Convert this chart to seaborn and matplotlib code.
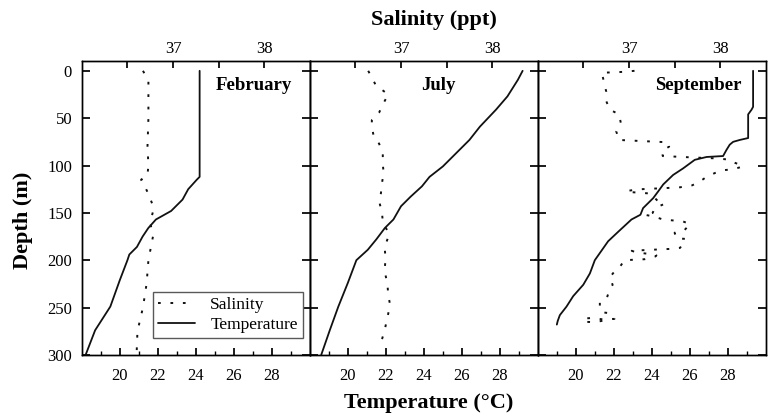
import seaborn as sns
import matplotlib.pyplot as plt

# depth profiles (depth in m)
months = ["February", "July", "September"]

feb_temp_depth = [0, 112, 115, 125, 136, 148, 157, 166, 175, 186, 194, 200, 221, 249, 274, 300]
feb_temp = [24.2, 24.2, 24.05, 23.6, 23.3, 22.7, 21.9, 21.5, 21.2, 20.9, 20.5, 20.4, 20.0, 19.5, 18.7, 18.2]
feb_sal_depth = [0, 10, 50, 80, 100, 110, 115, 122, 130, 145, 160, 175, 200, 225, 250, 275, 300]
feb_sal = [36.67, 36.73, 36.73, 36.72, 36.73, 36.72, 36.65, 36.69, 36.73, 36.79, 36.75, 36.78,
           36.73, 36.71, 36.67, 36.61, 36.60]

jul_temp_depth = [0, 9.5, 27, 41, 59, 73, 87, 101, 112, 122, 133, 143, 157, 166, 178, 189, 200,
                  224, 249, 274, 300]
jul_temp = [29.2, 28.95, 28.4, 27.8, 26.95, 26.4, 25.7, 25.0, 24.3, 23.9, 23.3, 22.8, 22.4, 21.95,
            21.5, 21.05, 20.45, 20.0, 19.5, 19.05, 18.6]
jul_sal_depth = [0, 7, 16.5, 20, 25, 32, 44, 52, 59, 69, 77, 88, 99, 108, 119, 129, 138, 149, 159,
                 173, 186, 198, 212, 224, 237, 247, 261, 274, 284, 289]
jul_sal = [36.64, 36.68, 36.73, 36.79, 36.86, 36.82, 36.76, 36.68, 36.68, 36.70, 36.76, 36.80,
           36.80, 36.81, 36.79, 36.78, 36.76, 36.79, 36.80, 36.87, 36.82, 36.83, 36.82, 36.85,
           36.86, 36.88, 36.85, 36.82, 36.79, 36.77]

sep_temp_depth = [0, 38, 41, 46, 71, 73, 75, 78, 83.5, 90, 91, 94, 103, 110, 120, 127.5, 134.5,
                  145, 152, 157, 170, 180, 200, 214, 226, 238, 249, 258, 264, 268]
sep_temp = [29.33, 29.33, 29.25, 29.07, 29.07, 28.63, 28.28, 28.1, 27.93, 27.75, 26.88, 26.26,
            25.65, 25.12, 24.6, 24.33, 24.07, 23.54, 23.4, 22.93, 22.23, 21.7, 21.0, 20.74, 20.39,
            19.86, 19.51, 19.16, 19.05, 19.0]
sep_sal_depth = [0, 1, 1.5, 2, 9.5, 22, 32, 41, 46, 55,
                 64, 73, 73.5, 74, 74.5, 75, 75.5, 80, 85, 90,
                 90.5, 91, 91.5, 92, 92.5, 94, 97, 101, 104, 105,
                 108, 112, 118, 121, 123, 123.5, 124, 124.5, 125, 126,
                 127, 128, 129, 129.5, 134, 138, 140.5, 145, 150, 152,
                 154, 157, 158, 159, 162, 168, 171, 177, 177.5, 182,
                 187, 188, 188.5, 189, 189.5, 190, 192, 193, 195, 196,
                 199, 199.5, 200, 207, 212, 218, 226, 233, 239, 244,
                 249, 255, 256, 262, 262.5, 261, 261.5, 265, 265.5, 264]
sep_sal = [37.06, 36.95, 36.86, 36.70, 36.72, 36.75, 36.75, 36.79, 36.89, 36.91,
           36.86, 36.89, 36.99, 37.10, 37.21, 37.32, 37.43, 37.44, 37.36, 37.37,
           37.48, 37.59, 37.70, 37.83, 37.96, 38.12, 38.16, 38.25, 38.14, 38.03,
           37.94, 37.85, 37.76, 37.69, 37.56, 37.47, 37.36, 37.25, 37.14, 37.04,
           36.97, 37.01, 37.14, 37.23, 37.28, 37.32, 37.39, 37.28, 37.26, 37.17,
           37.28, 37.37, 37.48, 37.59, 37.67, 37.61, 37.50, 37.52, 37.62, 37.59,
           37.56, 37.47, 37.36, 37.25, 37.14, 37.03, 37.08, 37.19, 37.30, 37.29,
           37.17, 37.06, 36.95, 36.90, 36.84, 36.79, 36.82, 36.78, 36.76, 36.68,
           36.68, 36.70, 36.79, 36.84, 36.71, 36.60, 36.52, 36.50, 36.62, 36.71]

temp_ticks = [20, 22, 24, 26, 28]
sal_ticks = [36.5, 37, 37.5, 38]
sal_labels = ["", "37", "", "38"]
depth_ticks = [0, 50, 100, 150, 200, 250, 300]

sns.set_theme(style="ticks", rc={
    "axes.edgecolor": "black",
    "axes.linewidth": 1.0,
    "xtick.color": "black",
    "ytick.color": "black",
    "text.color": "black",
    "axes.labelcolor": "black",
})
plt.rcParams["font.family"] = ["Liberation Serif", "DejaVu Serif"]

fig, axes = plt.subplots(1, 3, sharey=True, figsize=(7.72, 4.17), dpi=100)
fig.subplots_adjust(left=0.106, right=0.992, top=0.854, bottom=0.149, wspace=0)

profiles = [
    (feb_temp, feb_temp_depth, feb_sal, feb_sal_depth),
    (jul_temp, jul_temp_depth, jul_sal, jul_sal_depth),
    (sep_temp, sep_temp_depth, sep_sal, sep_sal_depth),
]
month_pos = [(0.92, "right"), (0.565, "center"), (0.895, "right")]

dots = (0, (1.4, 5))
for i, ax in enumerate(axes):
    temp, tdepth, sal, sdepth = profiles[i]
    top = ax.twiny()
    sns.lineplot(x=temp, y=tdepth, ax=ax, sort=False, estimator=None, color="#111111",
                 lw=1.3, legend=False, label="Temperature")
    sns.lineplot(x=sal, y=sdepth, ax=top, sort=False, estimator=None, color="#111111",
                 lw=1.4, linestyle=dots, legend=False, label="Salinity")

    ax.set_xlim(18, 30)
    top.set_xlim(36, 38.5)
    ax.set_ylim(300, -10.5)
    ax.set_xlabel("")
    ax.set_ylabel("")
    top.set_xlabel("")

    ax.set_xticks(temp_ticks)
    ax.set_xticks([19, 21, 23, 25, 27, 29], minor=True)
    ax.set_yticks(depth_ticks)
    top.set_xticks(sal_ticks)
    top.set_xticklabels(sal_labels)

    ax.tick_params(axis="x", which="major", direction="in", length=5, labelsize=12, pad=9.5,
                   top=False)
    ax.tick_params(axis="x", which="minor", direction="in", length=3, top=False)
    ax.tick_params(axis="y", which="major", direction="in", length=6, labelsize=12, pad=7,
                   left=True, right=True)
    top.tick_params(axis="x", which="major", direction="in", length=5, labelsize=12, pad=3)

    top.text(month_pos[i][0], 0.915, months[i], transform=ax.transAxes,
             ha=month_pos[i][1], va="center", fontsize=13.5, fontweight="bold")

    if i == 0:
        temp_line = ax.get_lines()[0]
        sal_line = top.get_lines()[0]
        top.legend([sal_line, temp_line], ["Salinity", "Temperature"], loc="lower right",
                   bbox_to_anchor=(0.97, 0.058), frameon=True, fancybox=False,
                   edgecolor="0.35", framealpha=1, fontsize=12.5, handlelength=2.1,
                   borderpad=0.3, labelspacing=0.2, handletextpad=0.9,
                   borderaxespad=0)

fig.text(0.562, 0.952, "Salinity (ppt)", ha="center", va="center", fontsize=16,
         fontweight="bold")
fig.text(0.555, 0.034, "Temperature (\u00b0C)", ha="center", va="center", fontsize=16,
         fontweight="bold")
fig.text(0.03, 0.472, "Depth (m)", ha="center", va="center", rotation=90, fontsize=16,
         fontweight="bold")

fig.savefig("out.png", dpi=100)
